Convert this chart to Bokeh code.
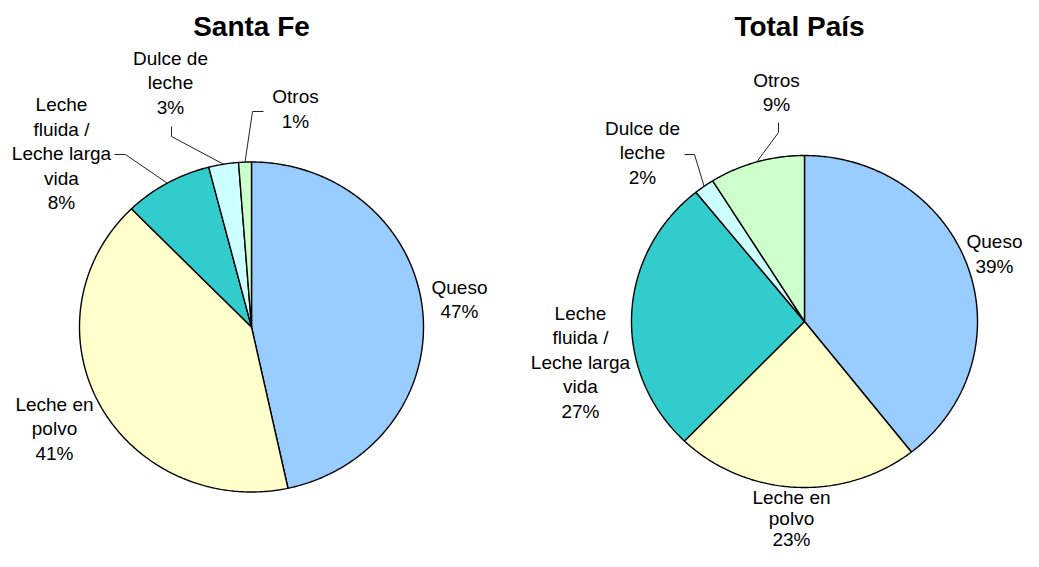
import numpy as np
from bokeh.plotting import figure
from bokeh.models import Range1d
from bokeh.core.properties import value
from bokeh.embed import file_html
from bokeh.resources import INLINE

# ---------------- data ----------------
categories = ["Queso", "Leche en polvo", "Leche fluida / Leche larga vida", "Dulce de leche", "Otros"]
label_lines = [["Queso"], ["Leche en", "polvo"], ["Leche", "fluida /", "Leche larga", "vida"],
               ["Dulce de", "leche"], ["Otros"]]
santa_fe = [46.6, 41.1, 8.3, 2.8, 1.2]
total_pais = [39.4, 22.8, 27.0, 1.9, 8.9]
titles = ["Santa Fe", "Total País"]
colors = ["#99CCFF", "#FFFFCC", "#33CCCC", "#CCFFFF", "#CCFFCC"]

# ---------------- layout ----------------
W, H = 1023, 551
FONT = "Liberation Sans"
pies = [
    dict(vals=santa_fe, cx=251, cy=326.5, rx=172, ry=165, title_xy=(251, 26),
         label_xy=[(459, 299), (54, 428), (61, 153), (170, 82), (295, 108.5)],
         pitch=[24.5, 24.5, 24.5, 24.5, 24.5],
         leaders={2: [(114, 154), (125, 154)], 3: [(171, 126), (171, 136)], 4: [(263, 111), (252, 111)]}),
    dict(vals=total_pais, cx=804, cy=321, rx=173, ry=166, title_xy=(799, 26),
         label_xy=[(994, 253.5), (791, 518), (580, 361.5), (642, 152), (776, 92)],
         pitch=[24.5, 21, 24.5, 24.5, 24.5],
         leaders={3: [(684, 154), (694, 154)], 4: [(778, 122), (778, 132)]}),
]

p = figure(width=W, height=H, x_range=Range1d(0, W), y_range=Range1d(H, 0),
           output_backend="svg", toolbar_location=None, min_border=0)
p.axis.visible = False
p.grid.visible = False
p.outline_line_color = None
p.background_fill_color = "white"

for k, pie in enumerate(pies):
    vals = np.array(pie["vals"], dtype=float)
    frac = vals / vals.sum()
    ends = np.cumsum(frac) * 2 * np.pi
    starts = ends - frac * 2 * np.pi
    cx, cy, rx, ry = pie["cx"], pie["cy"], pie["rx"], pie["ry"]
    xs, ys = [], []
    for a0, a1 in zip(starts, ends):
        t = np.linspace(a0, a1, max(int((a1 - a0) / 0.01), 2))
        xs.append(np.concatenate([[cx], cx + rx * np.sin(t)]).tolist())
        ys.append(np.concatenate([[cy], cy - ry * np.cos(t)]).tolist())
    p.patches(xs, ys, fill_color=colors, line_color="black", line_width=1.4)

    # leader lines
    for i, pts in pie["leaders"].items():
        mid = (starts[i] + ends[i]) / 2
        lx = [q[0] for q in pts] + [cx + rx * np.sin(mid)]
        ly = [q[1] for q in pts] + [cy - ry * np.cos(mid)]
        p.line(lx, ly, line_color="#222222", line_width=1)

    # labels
    tx, ty, tt = [], [], []
    for i, (lines, (lxc, lyc)) in enumerate(zip(label_lines, pie["label_xy"])):
        allines = lines + ["%d%%" % round(vals[i])]
        n = len(allines)
        for j, s in enumerate(allines):
            tx.append(lxc)
            ty.append(lyc + (j - (n - 1) / 2) * pie["pitch"][i])
            tt.append(s)
    p.text(x=tx, y=ty, text=tt, text_font=value(FONT), text_font_size="19px",
           text_align="center", text_baseline="middle", text_color="black")

    # title
    p.text(x=[pie["title_xy"][0]], y=[pie["title_xy"][1]], text=[titles[k]],
           text_font=value(FONT), text_font_size="28px", text_font_style="bold",
           text_align="center", text_baseline="middle", text_color="black")

open("out.html", "w").write(file_html(p, INLINE))
